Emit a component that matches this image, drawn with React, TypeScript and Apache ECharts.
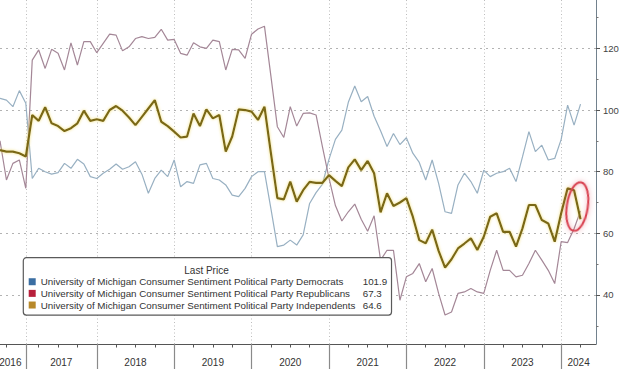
import React, { useEffect, useRef } from 'react';
import * as echarts from 'echarts';

const seriesNames = [
  'University of Michigan Consumer Sentiment Political Party Democrats',
  'University of Michigan Consumer Sentiment Political Party Republicans',
  'University of Michigan Consumer Sentiment Political Party Independents',
];

// monthly readings, Aug 2016 .. Mar 2024 (index = point number on the axis)
const democrats = [
  103.8, 103.2, 101.1, 106.3, 102.2, 77.8, 81.1, 80, 79.2, 79.7,
  82.7, 81.1, 84, 82.5, 78.4, 77.8, 79.5, 80.8, 82.5, 80.8,
  81.6, 83.2, 79.2, 73, 77.8, 80.5, 78.4, 83.8, 75.1, 76.8,
  76.2, 82.2, 82.7, 77.8, 77.3, 75.7, 72.4, 71.9, 74.6, 78.4,
  80, 80, 68, 55.7, 56.2, 57.8, 56.2, 59.5, 69.7, 73.2,
  76, 84, 90.5, 93.5, 102.5, 107.8, 102.7, 104.4, 98, 93.3,
  88.2, 92.4, 88.8, 91, 86, 83, 77.3, 83.8, 76.2, 67,
  66.5, 75.7, 79.5, 76.8, 73, 80.5, 78.4, 79.5, 80, 81.1,
  76.8, 84.8, 93, 86.5, 88.6, 83.8, 84.3, 90.5, 101.6, 95.1,
  101.9,
];
const republicans = [
  90, 77.3, 82.7, 83.8, 74.6, 116.2, 119.5, 113.5, 119.7, 118.4,
  113, 121.8, 114.6, 122.2, 122.2, 118.6, 121.6, 124.6, 124.3, 119.2,
  120.5, 123.2, 123.8, 123.2, 123.6, 126.2, 122.7, 122.9, 118.4, 117.8,
  121.8, 120.5, 120, 122.7, 122.2, 113, 119.7, 119.5, 116.8, 124.6,
  126.3, 127.2, 111, 94.6, 91.1, 101.1, 94.8, 98.9, 99.1, 98.4,
  88, 78, 69, 64, 67, 69.5, 64.6, 60.7, 65.7, 51.3,
  54.5, 54.5, 38.3, 45.9, 47, 50.2, 44.3, 48.6, 40.5, 33.5,
  34.5, 40.5, 41, 42.1, 41, 40.5, 48, 54.5, 48, 48,
  45.9, 46.4, 50.2, 54.5, 51.3, 48, 43.7, 57.3, 57, 61.5,
  67.3,
];
const independents = [
  87, 86.5, 86.5, 86, 84.9, 98.4, 96.5, 100.9, 95.7, 94.8,
  93.2, 94.1, 95.7, 99.8, 96.5, 97, 96.5, 100, 101.3, 99.8,
  97.6, 95.1, 97.8, 100.5, 103.2, 96.2, 94.8, 93, 91.1, 91.4,
  98.9, 94.8, 100.2, 97.3, 98.4, 86.5, 91.4, 100.2, 100, 99.5,
  96.8, 101.1, 86, 71.4, 71, 76.8, 70.3, 74, 76.7, 76.4,
  76.4, 78.9, 77, 75.3, 81.4, 84, 80.5, 83.5, 79.5, 66.8,
  73, 68.9, 70, 71.4, 65.4, 57.8, 56.8, 61.2, 54.3, 48.9,
  51.6, 55.1, 56.7, 58.4, 54.6, 58.9, 65.4, 66.5, 60.5, 60.5,
  55.7, 61.6, 69.2, 69.2, 64.3, 63.2, 57.3, 66.5, 74.6, 74,
  64.6,
];
const seriesValues = [democrats, republicans, independents];

const yearLabels = ['2016', '2017', '2018', '2019', '2020', '2021', '2022', '2023', '2024'];
const yearLabelPositions = [1.6, 9.5, 21, 33, 45, 57, 69, 81, 89.7];
const yearBoundaries = [4, 15, 27, 39, 51, 63, 75, 87];
const quarterTicks = [1, 6, 9, 12, 18, 21, 24, 30, 33, 36, 42, 45, 48, 54, 57, 60, 66, 69, 72, 78, 81, 84, 90];
const yMajorTicks = [40, 60, 80, 100, 120];
const yMinorTicks = [30, 50, 70, 90, 110, 130];
const xRange = [0, 92.4];
const yRange = [24.1, 135.7];
const highlightPoint = [89.5, 68.7];

const FONT = 'Liberation Sans';
const lineColors = ['#98b0c2', '#a48797', '#7a6814'];
const legendColors = ['#3b6ea2', '#b8203c', '#b8892a'];

export default function App() {
  const ref = useRef<HTMLDivElement>(null);

  useEffect(() => {
    if (!ref.current) return;
    const chart = echarts.init(ref.current, null, { renderer: 'svg' });

    const option: any = {
      animation: false,
      backgroundColor: '#ffffff',
      textStyle: { fontFamily: FONT },
      grid: {
        left: 0, right: 24, top: 0, bottom: 25,
        containLabel: false, outerBoundsMode: 'none',
      },
      xAxis: [
        {
          type: 'value', position: 'bottom', min: xRange[0], max: xRange[1],
          axisLine: { show: true, onZero: false, lineStyle: { color: '#555', width: 1 } },
          axisTick: {
            show: true, customValues: yearBoundaries, length: 25, inside: false,
            lineStyle: { color: '#8a8a8a', width: 1.2 },
          },
          splitLine: { show: true, lineStyle: { color: '#bdbdbd', width: 1, type: [1, 2.5] } },
          axisLabel: {
            show: true, customValues: yearLabelPositions, margin: 13,
            fontSize: 10, color: '#333', fontFamily: FONT,
            formatter: (v: number) => {
              const k = yearLabelPositions.findIndex((p) => Math.abs(p - v) < 0.01);
              return k >= 0 ? yearLabels[k] : '';
            },
          },
        },
        {
          type: 'value', position: 'bottom', min: xRange[0], max: xRange[1],
          axisLine: { show: false, onZero: false },
          axisTick: { show: true, customValues: quarterTicks, length: 3.5, lineStyle: { color: '#555', width: 1 } },
          splitLine: { show: false },
          axisLabel: { show: false },
        },
      ],
      yAxis: [
        {
          type: 'value', position: 'right', min: yRange[0], max: yRange[1],
          axisLine: { show: true, onZero: false, lineStyle: { color: '#72818d', width: 1 } },
          axisTick: { show: true, customValues: yMajorTicks, length: 4, lineStyle: { color: '#555', width: 1 } },
          splitLine: { show: true, lineStyle: { color: '#b3b3b3', width: 1, type: [2, 4] } },
          axisLabel: {
            show: true, customValues: yMajorTicks, margin: 7,
            fontSize: 9.5, color: '#444', fontFamily: FONT,
          },
        },
        {
          type: 'value', position: 'right', min: yRange[0], max: yRange[1],
          axisLine: { show: false, onZero: false },
          axisTick: { show: true, customValues: yMinorTicks, length: 2.5, lineStyle: { color: '#777', width: 1 } },
          splitLine: { show: false },
          axisLabel: { show: false },
        },
      ],
      legend: {
        orient: 'vertical', left: 23.3, top: 257.7,
        padding: [18.2, 4.3, 4.2, 5.4],
        itemWidth: 7, itemHeight: 7, itemGap: 0,
        icon: 'rect',
        selectedMode: false,
        backgroundColor: '#ffffff', borderColor: '#5a5a5a', borderWidth: 1.2, borderRadius: 3,
        data: seriesNames.map((n, i) => ({ name: n, itemStyle: { color: legendColors[i], borderWidth: 0 } })),
        formatter: (name: string) => {
          const idx = seriesNames.indexOf(name);
          const vals = seriesValues[idx];
          return '{n|' + name + '}{v|' + vals[vals.length - 1].toFixed(1) + '}';
        },
        textStyle: {
          fontSize: 9.8, color: '#333', fontFamily: FONT, lineHeight: 11.65,
          rich: {
            n: { width: 322, fontSize: 9.8, color: '#333', fontFamily: FONT, lineHeight: 11.65 },
            v: { width: 23, fontSize: 9.8, color: '#333', fontFamily: FONT, lineHeight: 11.65 },
          },
        },
      },
      series: seriesNames.map((name, si) => ({
        name,
        type: 'line',
        xAxisIndex: 0,
        yAxisIndex: 0,
        data: seriesValues[si].map((v, i) => [i, v]),
        showSymbol: false,
        symbol: 'none',
        z: si === 2 ? 4 : 2,
        lineStyle: si === 2
          ? { color: lineColors[si], width: 2.2, shadowColor: 'rgba(240, 220, 110, 0.9)', shadowBlur: 3 }
          : { color: lineColors[si], width: 1.2 },
        itemStyle: { color: lineColors[si] },
      })),
    };

    chart.setOption(option);

    const c = chart.convertToPixel({ seriesIndex: 2 }, highlightPoint) as number[];
    chart.setOption({
      graphic: [
        {
          id: 'legendTitle', type: 'text', z: 100,
          style: {
            text: 'Last Price', x: 206.5, y: 270, align: 'center', verticalAlign: 'middle',
            fontSize: 10, fontFamily: FONT, fill: '#333',
          },
        },
        {
          id: 'highlight', type: 'ellipse', z: 100,
          x: c[0], y: c[1], rotation: -0.15,
          shape: { cx: 0, cy: 0, rx: 10.5, ry: 24.5 },
          style: {
            fill: 'none', stroke: '#d8414f', lineWidth: 2,
            shadowBlur: 5, shadowColor: 'rgba(225, 70, 90, 0.55)',
          },
        },
      ],
    });

    return () => chart.dispose();
  }, []);

  return <div ref={ref} style={{ position: 'absolute', left: 0, top: 0, width: 620, height: 369 }} />;
}
